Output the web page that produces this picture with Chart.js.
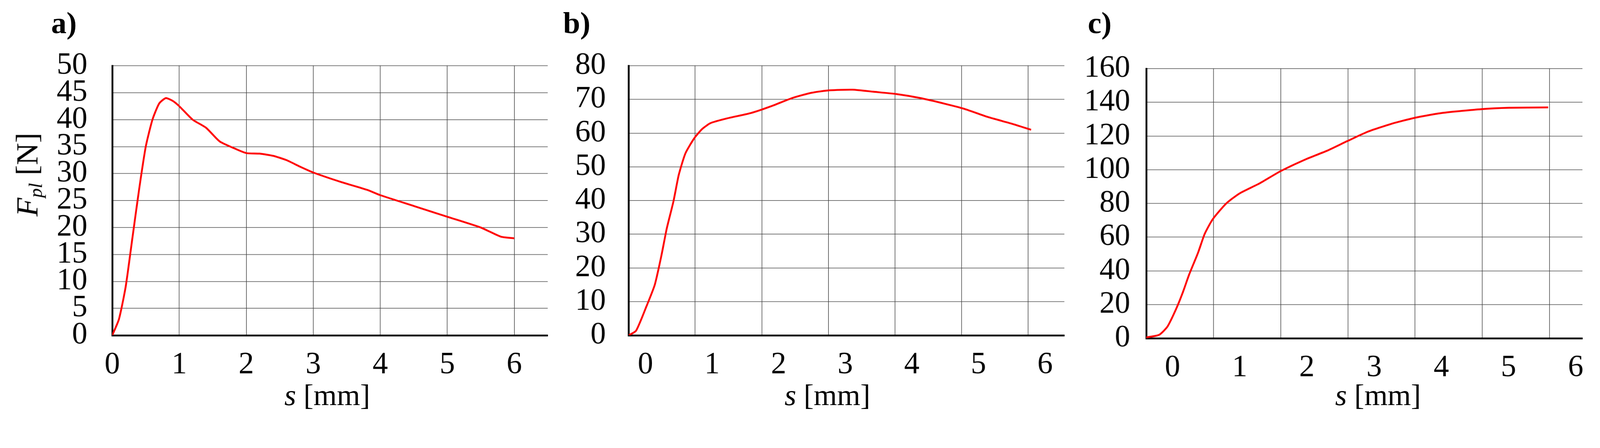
<!DOCTYPE html>
<html><head><meta charset="utf-8">
<script src="https://cdn.jsdelivr.net/npm/chart.js@4/dist/chart.umd.min.js"></script>
<style>
html,body{margin:0;padding:0;background:#fff;overflow:hidden}
#root{width:4376px;height:1148px;position:relative;transform-origin:0 0;font-family:"Liberation Serif",serif}
canvas{position:absolute;top:0}
.pl{position:absolute;top:14px;font-weight:bold;font-size:84px}
.xt{position:absolute;top:1035px;font-size:82px;transform:translateX(-50%);white-space:nowrap}
.yt{position:absolute;font-size:84px;white-space:nowrap;transform:translate(-50%,-50%) rotate(-90deg)}
sub{font-size:62%;vertical-align:-0.25em}
</style></head><body>
<div id="root">
<div style="position:absolute;left:0;width:1530px;height:1148px"><canvas id="ca"></canvas></div>
<div style="position:absolute;left:1530px;width:1400px;height:1148px"><canvas id="cb"></canvas></div>
<div style="position:absolute;left:2930px;width:1446px;height:1148px"><canvas id="cc"></canvas></div>
<div class="pl" style="left:140px">a)</div>
<div class="pl" style="left:1540px">b)</div>
<div class="pl" style="left:2975px">c)</div>
<div class="xt" style="left:895px"><i>s</i> [mm]</div>
<div class="xt" style="left:2263px"><i>s</i> [mm]</div>
<div class="xt" style="left:3769px"><i>s</i> [mm]</div>
<div class="yt" style="left:76px;top:478px"><i>F<sub>pl</sub></i> [N]</div>
</div>
<script>
const xA=[0,0.1,0.2,0.3,0.4,0.5,0.6,0.7,0.8,0.9,1.0,1.2,1.4,1.6,1.8,2.0,2.2,2.4,2.6,2.8,3.0,3.4,3.8,4.0,4.5,5.0,5.5,5.8,6.0];
const yA=[0,3,9,18,27,35,40,43,44,43.5,42.5,40,38.5,36,34.8,33.8,33.7,33.3,32.5,31.3,30.2,28.5,27,26,24,22,20,18.3,18];
const xB=[-0.25,-0.14,0.015,0.14,0.24,0.32,0.42,0.5,0.6,0.73,0.85,0.98,1.23,1.59,1.89,2.2,2.5,2.76,3.11,3.42,3.77,4.13,4.48,4.79,5.14,5.5,5.79];
const yB=[0,1.4,8.6,15,23.7,31.7,39.7,47.6,54,58.4,61.2,63,64.4,66,68,70.4,72,72.7,72.9,72.3,71.6,70.4,68.8,67.2,64.8,62.8,61];
const xC=[-0.39,-0.2,-0.075,0.05,0.15,0.25,0.38,0.48,0.6,0.8,1.0,1.3,1.6,2.0,2.3,2.6,2.9,3.26,3.6,4.01,4.6,5.01,5.59];
const yC=[0.5,2,6.9,17,26.8,38,50.7,62,70.7,80,86,92,99,106.5,111.3,117,122.5,127.3,130.8,133.7,136,136.8,137];
const xTicks=[0,1,2,3,4,5,6];

const sc=window.innerWidth/4376;
document.getElementById('root').style.transform='scale('+sc+')';

function make(id,xs,ys,o){
  const data=xs.map((x,i)=>({x:x,y:ys[i]}));
  new Chart(document.getElementById(id),{
    type:'line',
    data:{datasets:[{data:data,borderColor:'#ff0000',borderWidth:5,pointRadius:0,tension:0.2,fill:false}]},
    options:{responsive:true,maintainAspectRatio:false,animation:false,
      layout:{padding:{top:o.top,right:o.right,left:0,bottom:0}},
      plugins:{legend:{display:false},tooltip:{enabled:false}},
      scales:{
        xg:{type:'linear',position:'bottom',min:o.xmin,max:o.xmax,
          afterBuildTicks:s=>{s.ticks=xTicks.map(v=>({value:v+o.off}));},
          afterFit:s=>{s.height=0;},
          ticks:{display:false,autoSkip:false},
          grid:{color:'#444',lineWidth:1.6,drawTicks:false},
          border:{display:true,color:'#000',width:5}},
        x:{type:'linear',position:'bottom',min:o.xmin,max:o.xmax,
          afterBuildTicks:s=>{s.ticks=xTicks.map(v=>({value:v}));},
          afterFit:s=>{s.height=o.xh;},
          ticks:{color:'#000',padding:32,font:{family:'Liberation Serif',size:84},maxRotation:0,autoSkip:false,callback:v=>String(v)},
          grid:{display:false,drawTicks:false},border:{display:false}},
        y:{type:'linear',min:0,max:o.ymax,
          afterBuildTicks:s=>{const t=[];for(let v=0;v<=o.ymax;v+=o.step)t.push({value:v});s.ticks=t;},
          afterFit:s=>{s.width=o.yw;},
          ticks:{color:'#000',padding:o.ypad,autoSkip:false,font:{family:'Liberation Serif',size:84}},
          grid:{color:'#444',lineWidth:1.6,drawTicks:false},
          border:{color:'#000',width:5}}
      }}
  });
}
make('ca',xA,yA,{top:180,right:32,xh:230,yw:307,ypad:68,xmin:0,xmax:6.5,off:0,ymax:50,step:5});
make('cb',xB,yB,{top:180,right:19,xh:230,yw:189,ypad:62,xmin:-0.254,xmax:6.29,off:-0.254,ymax:80,step:10});
make('cc',xC,yC,{top:188,right:48,xh:222,yw:205,ypad:44,xmin:-0.39,xmax:6.1,off:-0.39,ymax:160,step:20});
</script></body></html>
